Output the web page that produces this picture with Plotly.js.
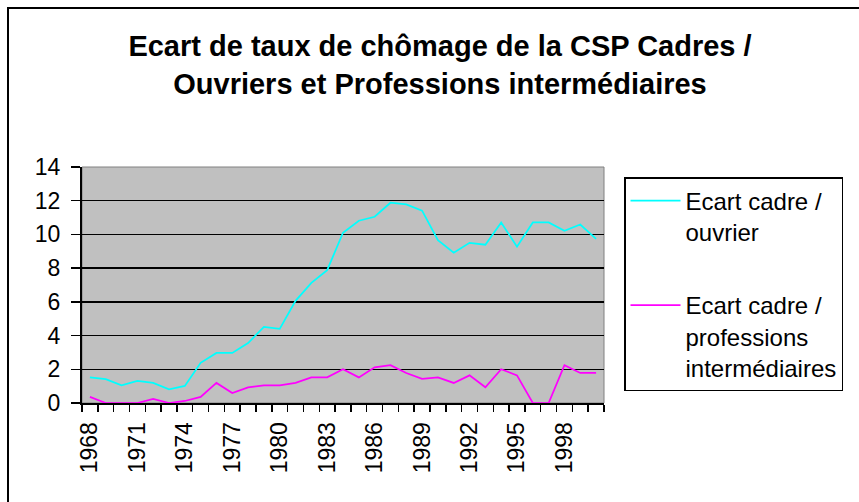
<!DOCTYPE html>
<html>
<head>
<meta charset="utf-8">
<script src="https://cdn.plot.ly/plotly-3.0.1.min.js"></script>
<style>
html, body { margin: 0; padding: 0; background: #ffffff; }
#wrap { position: relative; width: 859px; height: 502px; overflow: hidden; }
#chart { width: 859px; height: 502px; }
#frame { position: absolute; left: 7px; top: 7px; width: 900px; height: 600px;
         border-left: 2px solid #000000; border-top: 2px solid #000000; pointer-events: none; z-index: 5; }
</style>
</head>
<body>
<div id="wrap">
<div id="chart"></div>
<div id="frame"></div>
</div>
<script>
const years = [1968,1969,1970,1971,1972,1973,1974,1975,1976,1977,1978,1979,1980,1981,1982,1983,1984,
               1985,1986,1987,1988,1989,1990,1991,1992,1993,1994,1995,1996,1997,1998,1999,2000];
const ecartOuvrier = [1.52,1.41,1.05,1.31,1.19,0.81,1.01,2.38,2.97,2.97,3.56,4.51,4.40,6.06,7.13,7.88,10.1,
                      10.81,11.05,11.88,11.78,11.41,9.66,8.91,9.5,9.39,10.71,9.27,10.71,10.71,10.22,10.59,9.74];
const ecartProfInter = [0.36,0,0,0,0.24,0,0.12,0.36,1.19,0.59,0.93,1.05,1.05,1.19,1.52,1.52,2.0,
                        1.52,2.12,2.24,1.78,1.43,1.52,1.19,1.64,0.93,2.0,1.64,0,0,2.24,1.78,1.78];
const seriesNames = ["Ecart cadre /<br>ouvrier", "Ecart cadre /<br>professions<br>intermédiaires"];
const titleText = "Ecart de taux de chômage de la CSP Cadres /<br>Ouvriers et Professions intermédiaires";
const yTicks = [0,2,4,6,8,10,12,14];

const W = 859, H = 502;
const mL = 82, mR = 255, mT = 167, mB = 99;
const pw = W - mL - mR, ph = H - mT - mB;
const px = v => (v - mL) / pw;
const py = v => (H - mB - v) / ph;

const font = "Arial, 'Liberation Sans', sans-serif";

const traces = [
  {x: years, y: ecartOuvrier, name: seriesNames[0], type: 'scatter', mode: 'lines',
   line: {color: '#00FFFF', width: 1.75}, legendgroup: 'a'},
  {x: years, y: ecartProfInter, name: seriesNames[1], type: 'scatter', mode: 'lines',
   line: {color: '#FF00FF', width: 1.75}, legendgroup: 'b'}
];

const layout = {
  width: W, height: H,
  margin: {l: mL, r: mR, t: mT, b: mB, pad: 0},
  paper_bgcolor: '#ffffff',
  plot_bgcolor: '#C0C0C0',
  font: {family: font, color: '#000000', size: 23},
  title: {
    text: titleText,
    font: {family: font, size: 29, color: '#000000', weight: 'bold'},
    x: 440 / W, xanchor: 'center', xref: 'container',
    y: 1 - 56 / H, yanchor: 'top', yref: 'container'
  },
  xaxis: {
    type: 'linear',
    range: [1967.5, 2000.5],
    tick0: 1968, dtick: 3,
    tickangle: -90,
    ticks: 'outside', ticklen: 8, tickcolor: 'rgba(0,0,0,0)',
    tickfont: {family: font, size: 23, color: '#000000'},
    showgrid: false, zeroline: false,
    showline: true, linecolor: '#000000', linewidth: 2,
    minor: {tick0: 1967.5, dtick: 1, ticks: 'outside', ticklen: 7, tickwidth: 1.5,
            tickcolor: '#000000', showgrid: false},
    fixedrange: true
  },
  yaxis: {
    range: [0, 14],
    tickvals: yTicks,
    ticktext: yTicks.map(String),
    ticks: 'outside', ticklen: 9, tickwidth: 1.5, tickcolor: '#000000',
    ticklabelstandoff: 6,
    tickfont: {family: font, size: 23, color: '#000000'},
    showgrid: true, gridcolor: '#000000', gridwidth: 1.3,
    zeroline: false,
    showline: true, linecolor: '#000000', linewidth: 2,
    fixedrange: true
  },
  showlegend: true,
  legend: {
    x: px(624), xanchor: 'left',
    y: py(177), yanchor: 'top',
    bgcolor: '#ffffff', bordercolor: '#000000', borderwidth: 1.5,
    font: {family: font, size: 24, color: '#000000'},
    valign: 'top',
    itemwidth: 50,
    tracegroupgap: 39,
    traceorder: 'grouped'
  },
  shapes: [
    {type: 'rect', xref: 'paper', yref: 'paper', x0: 0, x1: 1, y0: 0, y1: 1,
     line: {color: '#808080', width: 1}, layer: 'below'}
  ]
};

Plotly.newPlot('chart', traces, layout, {displayModeBar: false, staticPlot: true});
</script>
</body>
</html>
